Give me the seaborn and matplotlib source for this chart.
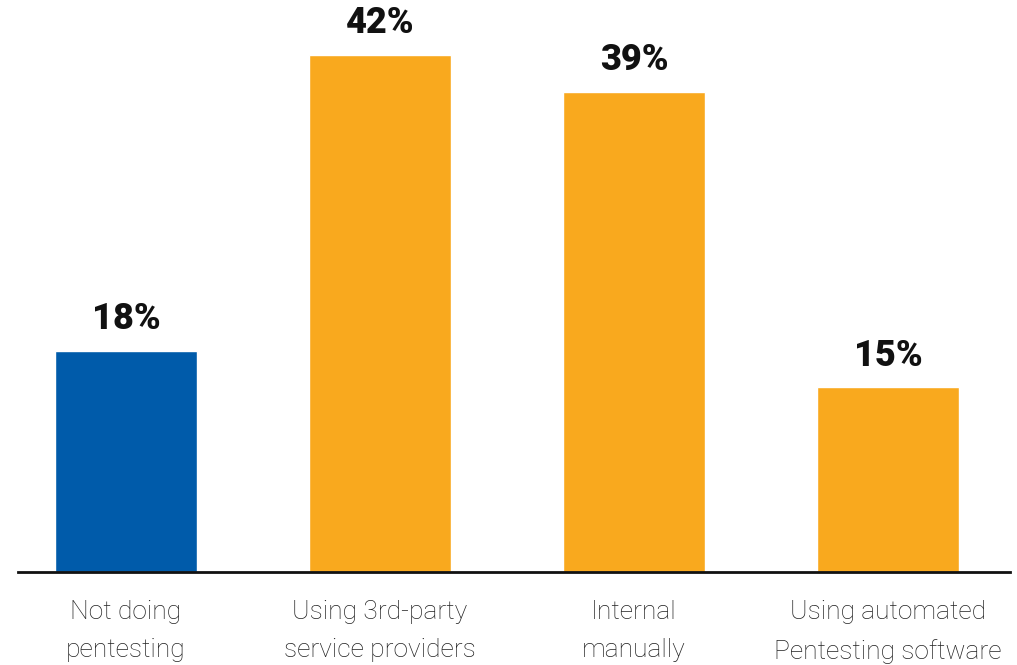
import matplotlib
matplotlib.use("Agg")
import matplotlib.pyplot as plt
import seaborn as sns
import pandas as pd

categories = ["Not doing\npentesting", "Using 3rd-party\nservice providers",
              "Internal\nmanually", "Using automated\nPentesting software"]
values = [18, 42, 39, 15]
labels = ["18%", "42%", "39%", "15%"]
colors = ["#005BAA", "#F9A91E", "#F9A91E", "#F9A91E"]

sns.set_theme(style="white")
plt.rcParams['font.family'] = ['Roboto', 'DejaVu Sans']

df = pd.DataFrame({"cat": categories, "val": values})

fig = plt.figure(figsize=(10.17, 6.65), dpi=100)
ax = fig.add_axes([18/1017, 93/665, (1010-18)/1017, 572/665])
sns.barplot(data=df, x="cat", y="val", hue="cat", palette=colors, legend=False,
            width=0.56, saturation=1, ax=ax)

ax.set_ylim(0, 46.5)
ax.set_xlim(-0.425, 3.48)
ax.set_xlabel("")
ax.set_ylabel("")
ax.set_yticks([])
for s in ["top", "right", "left"]:
    ax.spines[s].set_visible(False)
ax.spines["bottom"].set_color("#111111")
ax.spines["bottom"].set_linewidth(2)
ax.tick_params(axis="x", length=0, pad=20, labelsize=19, labelcolor="#222222")
for t in ax.get_xticklabels():
    t.set_fontweight("light")
    t.set_linespacing(1.75)

for i, (v, lab) in enumerate(zip(values, labels)):
    ax.annotate(lab, (i, v), xytext=(0, 10), textcoords="offset points",
                ha="center", va="bottom", fontsize=26, fontweight="black",
                color="#111111")

fig.savefig("out.png", dpi=100)
